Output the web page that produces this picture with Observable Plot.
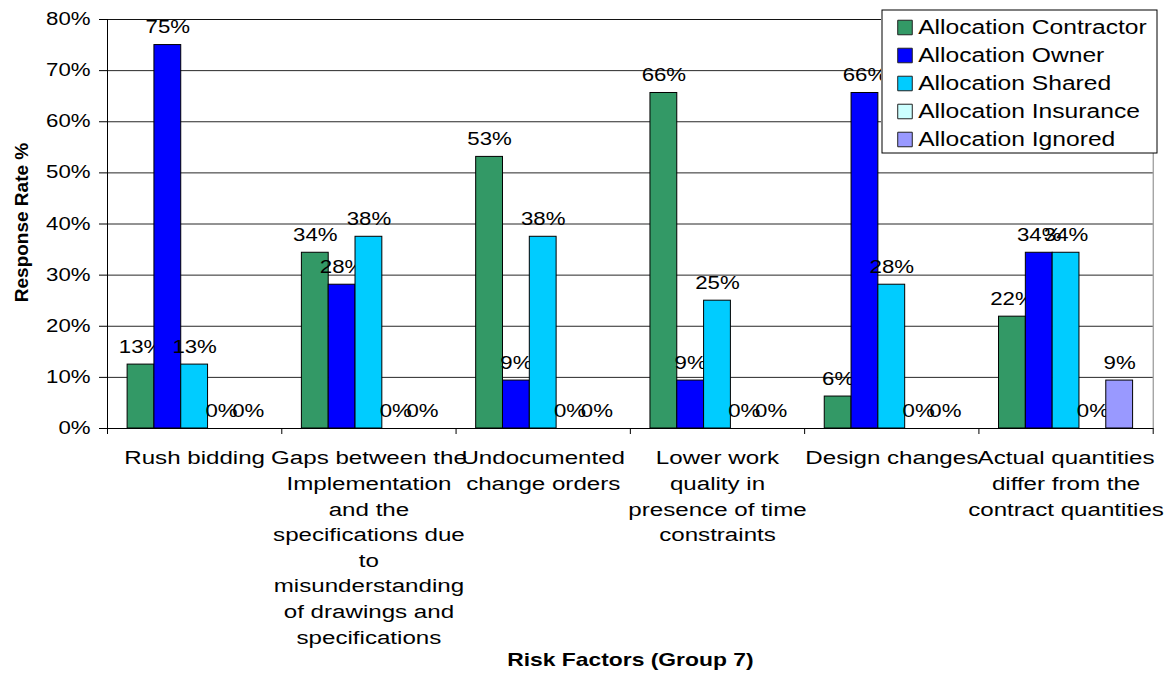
<!DOCTYPE html>
<html>
<head>
<meta charset="utf-8">
<script src="https://cdn.jsdelivr.net/npm/d3@7"></script>
<script src="https://cdn.jsdelivr.net/npm/@observablehq/plot@0.6"></script>
<style>
  html, body { margin: 0; padding: 0; background: #fff; }
  #chart { position: relative; width: 1175px; height: 679px; }
  #legend { position: absolute; left: 881px; top: 9px; }
  svg { overflow: visible; }
</style>
</head>
<body>
<div id="chart"><div id="legend"></div></div>
<script>
// Risk factors of group 7
const categories = [
  "Rush bidding",
  "Gaps between the Implementation and the specifications due to misunderstanding of drawings and specifications",
  "Undocumented change orders",
  "Lower work quality in presence of time constraints",
  "Design changes",
  "Actual quantities differ from the contract quantities"
];
// Wrapped tick labels for the categories
const categoryLabels = [
  "Rush bidding",
  "Gaps between the\nImplementation\nand the\nspecifications due\nto\nmisunderstanding\nof drawings and\nspecifications",
  "Undocumented\nchange orders",
  "Lower work\nquality in\npresence of time\nconstraints",
  "Design changes",
  "Actual quantities\ndiffer from the\ncontract quantities"
];
const seriesNames = [
  "Allocation Contractor",
  "Allocation Owner",
  "Allocation Shared",
  "Allocation Insurance",
  "Allocation Ignored"
];
const seriesColors = ["#339966", "#0000FF", "#00CCFF", "#CCFFFF", "#9999FF"];

// Response rate per risk factor, one array per allocation
const contractor = [0.125, 0.34375, 0.53125, 0.65625, 0.0625, 0.21875];
const owner      = [0.75, 0.28125, 0.09375, 0.09375, 0.65625, 0.34375];
const shared     = [0.125, 0.375, 0.375, 0.25, 0.28125, 0.34375];
const insurance  = [0, 0, 0, 0, 0, 0];
const ignored    = [0, 0, 0, 0, 0, 0.09375];

const yTicks = [0, 0.1, 0.2, 0.3, 0.4, 0.5, 0.6, 0.7, 0.8];
const yTitle = "Response Rate %";
const xTitle = "Risk Factors (Group 7)";

const seriesValues = [contractor, owner, shared, insurance, ignored];
const rows = categories.flatMap((category, i) =>
  seriesNames.map((series, j) => ({category, series, value: seriesValues[j][i]}))
);

// Layout
const width = 1175, height = 679;
const marginTop = 19, marginBottom = 251, marginLeft = 107, marginRight = 22.3;
const groupW = (width - marginLeft - marginRight) / categories.length;
const gapWidth = 1.5; // gap between clusters, in bar widths
const barW = groupW / (seriesNames.length + gapWidth);
const pad = gapWidth * barW / 2;
const font = "'Liberation Sans', Arial, sans-serif";
const pct = d3.format(".0%");

const barMarks = seriesNames.flatMap((name, j) => {
  const subset = rows.filter(d => d.series === name);
  return [
    Plot.barY(subset, {
      x: "category", y: "value", fill: "series",
      stroke: "black", strokeWidth: 1,
      insetLeft: pad + j * barW,
      insetRight: groupW - pad - (j + 1) * barW
    }),
    Plot.text(subset, {
      x: "category", y: "value", text: d => pct(d.value),
      dx: pad + (j + 0.5) * barW - groupW / 2, dy: -17.5,
      fontSize: 17.5, fill: "black", lineAnchor: "middle"
    })
  ];
});

const chart = Plot.plot({
  width, height, marginTop, marginBottom, marginLeft, marginRight,
  style: {fontFamily: font, background: "white", color: "black"},
  x: {type: "band", domain: categories, paddingInner: 0, paddingOuter: 0, round: false, axis: null},
  y: {domain: [0, 0.8], axis: null},
  color: {domain: seriesNames, range: seriesColors},
  marks: [
    Plot.frame({stroke: "#808080"}),
    Plot.gridY(yTicks, {stroke: "black", strokeOpacity: 0.85}),
    Plot.axisY(yTicks, {tickFormat: pct, tickSize: 8, tickPadding: 9, fontSize: 17.5, label: null, fill: "black", stroke: "black"}),
    Plot.axisX(categories, {tickSize: 6, dx: -groupW / 2, fill: "none", label: null, stroke: "black"}),
    Plot.axisX([categories[categories.length - 1]], {tickSize: 6, dx: groupW / 2, fill: "none", label: null, stroke: "black"}),
    ...barMarks,
    Plot.ruleY([0], {stroke: "black"}),
    Plot.ruleX([categories[0]], {dx: -groupW / 2, stroke: "black"}),
    Plot.text(categories, {
      x: d => d, text: (d, i) => categoryLabels[i],
      frameAnchor: "bottom", lineAnchor: "top", dy: 17.7,
      fontSize: 19, lineHeight: 25.6 / 19, fill: "black"
    }),
    Plot.text([xTitle], {
      text: d => d, frameAnchor: "bottom", lineAnchor: "middle", dy: 231.5,
      fontSize: 18, fontWeight: "bold", fill: "black"
    }),
    Plot.text([yTitle], {
      text: d => d, frameAnchor: "left", textAnchor: "middle", rotate: -90, dx: -86, dy: -1.5,
      lineAnchor: "middle", fontSize: 19, fontWeight: "bold", fill: "black"
    })
  ]
});

const legend = Plot.plot({
  width: 276, height: 144, margin: 0,
  style: {fontFamily: font, background: "white", color: "black"},
  y: {type: "point", domain: seriesNames, range: [17, 131], padding: 0, axis: null},
  color: {domain: seriesNames, range: seriesColors},
  marks: [
    Plot.frame({stroke: "black", inset: 0.5}),
    Plot.dot(seriesNames, {y: d => d, frameAnchor: "left", dx: 23.5, symbol: "square", r: 8.2, fill: d => d, stroke: "#222", strokeWidth: 1}),
    Plot.text(seriesNames, {y: d => d, text: d => d, frameAnchor: "left", dx: 36.7, textAnchor: "start", lineAnchor: "middle", fontSize: 19.4, fill: "black"})
  ]
});

// Wide horizontal lettering, as in the spreadsheet rendering
function widen(svg, k) {
  for (const t of svg.querySelectorAll("text")) {
    const tr = t.getAttribute("transform") || "";
    if (tr.includes("rotate")) continue;
    const x = t.getAttribute("x");
    if (x != null && isFinite(+x) && +x !== 0) t.setAttribute("x", +x / k);
    t.setAttribute("transform", `${tr} scale(${k},1)`);
  }
}
widen(chart, 1.27);
widen(legend, 1.27);

const root = document.getElementById("chart");
root.insertBefore(chart, root.firstChild);
document.getElementById("legend").appendChild(legend);
</script>
</body>
</html>
